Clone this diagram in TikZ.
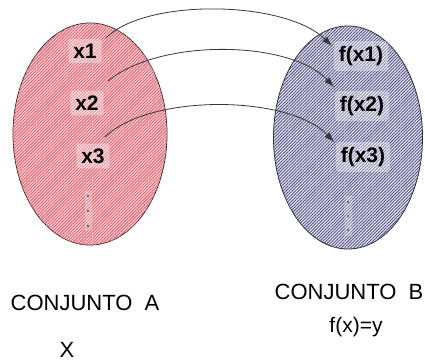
\documentclass[tikz,border=0pt]{standalone}
\usepackage{fontspec}
\setmainfont{Liberation Sans}
\usetikzlibrary{patterns.meta,arrows.meta}
\definecolor{redbg}{RGB}{250,212,217}
\definecolor{redln}{RGB}{224,104,116}
\definecolor{bluebg}{RGB}{236,236,246}
\definecolor{blueln}{RGB}{82,82,132}
\definecolor{arr}{RGB}{55,55,55}
\tikzset{
  setA/.style={draw=black!85, line width=0.8pt, fill=redbg,
    postaction={pattern={Lines[angle=45,distance=2.2pt,line width=1pt]}, pattern color=redln}},
  setB/.style={draw=black!85, line width=0.8pt, fill=bluebg,
    postaction={pattern={Lines[angle=45,distance=2.2pt,line width=0.9pt]}, pattern color=blueln}},
  elem/.style={font=\fontsize{21}{21}\selectfont\bfseries, fill=white, fill opacity=0.35,
    text opacity=1, rounded corners=3pt, inner sep=5pt},
  dotsbox/.style={fill=white, fill opacity=0.25, minimum width=7pt, minimum height=40pt, inner sep=0pt},
  maparrow/.style={draw=arr, line width=0.8pt, -{Latex[length=10pt,width=7pt]}},
  caption/.style={font=\fontsize{22}{22}\selectfont, inner sep=0pt}
}
\begin{document}
\begin{tikzpicture}[x=1pt,y=-1pt]
\useasboundingbox (0,0) rectangle (425,362);
\path[setA] (90,134) ellipse [x radius=77pt, y radius=111pt];
\path[setB] (348,137.5) ellipse [x radius=74.5pt, y radius=111.5pt];
\node[elem] (x1) at (85,51) {x1};
\node[elem] (x2) at (87,103) {x2};
\node[elem] (x3) at (93,156) {x3};
\node[dotsbox] (dA) at (88,211) {};
\foreach \dy in {-15,0,15} \fill[black!75] ([yshift=\dy pt]dA.center) circle (1.1pt);
\node[elem] (f1) at (361,56) {f(x1)};
\node[elem] (f2) at (362,106) {f(x2)};
\node[elem] (f3) at (363,157) {f(x3)};
\node[dotsbox] (dB) at (348,216) {};
\foreach \dy in {-14,0,14} \fill[black!70] ([yshift=\dy pt]dB.center) circle (1pt);
\coordinate (s1) at (106,38); \coordinate (e1) at (332,46);
\coordinate (s2) at (108,81); \coordinate (e2) at (334,87);
\coordinate (s3) at (105,137); \coordinate (e3) at (334,142);
\draw[maparrow] (s1) .. controls (145,-2) and (285,0) .. (e1);
\draw[maparrow] (s2) .. controls (160,38) and (290,40) .. (e2);
\draw[maparrow] (s3) .. controls (150,93) and (290,95) .. (e3);
\node[caption] (cA) at (85,303) {CONJUNTO\ \ A};
\node[caption] (cB) at (349,292) {CONJUNTO\ \ B};
\node[caption] (lx) at (67,350) {X};
\node[caption, font=\fontsize{21}{21}\selectfont] (fy) at (356,327) {f(x)=y};
\end{tikzpicture}
\end{document}
